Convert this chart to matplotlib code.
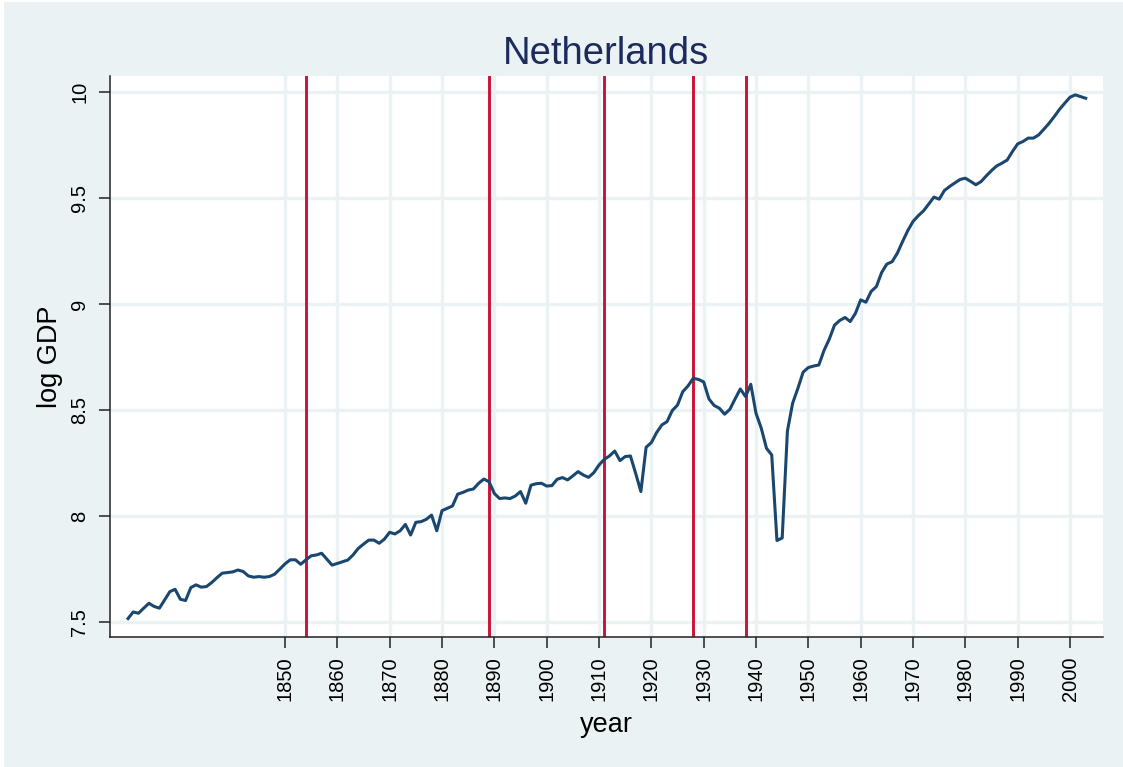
import numpy as np
import matplotlib
matplotlib.use("Agg")
import matplotlib.pyplot as plt
from matplotlib.patches import Rectangle

plt.rcParams['font.family'] = ['Liberation Sans', 'DejaVu Sans']

# Annual log GDP, Netherlands
years = np.arange(1820, 2004)
log_gdp = [
    7.516, 7.547, 7.541, 7.565, 7.588, 7.573, 7.565, 7.604, 7.643, 7.654,
    7.607, 7.601, 7.662, 7.675, 7.664, 7.667, 7.686, 7.709, 7.730, 7.733,
    7.736, 7.745, 7.738, 7.717, 7.711, 7.714, 7.711, 7.714, 7.725, 7.749,
    7.774, 7.793, 7.793, 7.772, 7.793, 7.812, 7.816, 7.824, 7.796, 7.768,
    7.776, 7.784, 7.792, 7.816, 7.847, 7.867, 7.886, 7.886, 7.871, 7.891,
    7.923, 7.915, 7.930, 7.960, 7.910, 7.970, 7.973, 7.984, 8.004, 7.930,
    8.025, 8.036, 8.047, 8.103, 8.111, 8.122, 8.127, 8.154, 8.174, 8.161,
    8.106, 8.082, 8.085, 8.082, 8.094, 8.115, 8.060, 8.145, 8.152, 8.154,
    8.141, 8.143, 8.173, 8.181, 8.170, 8.189, 8.209, 8.193, 8.182, 8.204,
    8.240, 8.267, 8.283, 8.306, 8.261, 8.280, 8.283, 8.201, 8.115, 8.324,
    8.346, 8.393, 8.429, 8.445, 8.497, 8.523, 8.586, 8.613, 8.649, 8.644,
    8.632, 8.552, 8.521, 8.508, 8.480, 8.503, 8.552, 8.599, 8.563, 8.621,
    8.484, 8.414, 8.319, 8.288, 7.884, 7.896, 8.401, 8.532, 8.602, 8.678,
    8.700, 8.707, 8.712, 8.781, 8.834, 8.900, 8.922, 8.936, 8.917, 8.956,
    9.019, 9.008, 9.059, 9.082, 9.148, 9.188, 9.199, 9.239, 9.294, 9.346,
    9.389, 9.416, 9.439, 9.471, 9.504, 9.494, 9.535, 9.554, 9.571, 9.587,
    9.593, 9.578, 9.562, 9.577, 9.604, 9.629, 9.651, 9.664, 9.679, 9.719,
    9.755, 9.766, 9.782, 9.782, 9.797, 9.824, 9.852, 9.884, 9.918, 9.947,
    9.975, 9.986, 9.978, 9.970,
]

# Years marked with vertical reference lines
break_years = [1854, 1889, 1911, 1928, 1938]

x_ticks = list(range(1850, 2001, 10))
y_ticks = [7.5, 8, 8.5, 9, 9.5, 10]
y_tick_labels = ["7.5", "8", "8.5", "9", "9.5", "10"]

W, H = 1123, 767
bg = "#EAF2F3"
grid_c = "#EAF2F3"
line_c = "#1A476F"
red_c = "#CC1236"

fig = plt.figure(figsize=(W / 100, H / 100), dpi=100, facecolor="white")
fig.patches.append(Rectangle((4 / W, 0), 1 - 4 / W, 1 - 2 / H,
                             transform=fig.transFigure, facecolor=bg,
                             edgecolor="none", zorder=-10))

left, right, top, bottom = 110, 1103, 76, 637
ax = fig.add_axes([left / W, 1 - bottom / H, (right - left) / W, (bottom - top) / H])
ax.set_facecolor("white")

ax.set_xlim(1816.56, 2006.3)
ax.set_ylim(7.429, 10.075)

# grid
for xv in x_ticks:
    ax.axvline(xv, color=grid_c, lw=2.4, zorder=1)
for yv in y_ticks:
    ax.axhline(yv, color=grid_c, lw=2.4, zorder=1)

for bx in break_years:
    ax.axvline(bx, color=red_c, lw=2.1, zorder=2)

ax.plot(years, log_gdp, color=line_c, lw=2.2, zorder=3, solid_joinstyle="round")

for s in ["top", "right"]:
    ax.spines[s].set_visible(False)
for s in ["left", "bottom"]:
    ax.spines[s].set_color("#222222")
    ax.spines[s].set_linewidth(1.1)

ax.set_xticks(x_ticks)
ax.set_xticklabels([str(v) for v in x_ticks], rotation=90, fontsize=14.5)
ax.set_yticks(y_ticks)
ax.set_yticklabels(y_tick_labels, rotation=90, va="center", fontsize=14.5)
ax.tick_params(axis="both", length=8, width=1.1, color="#222222", labelcolor="black")
ax.tick_params(axis="x", pad=6)
ax.tick_params(axis="y", pad=7)

cx = (left + right) / 2 / W
fig.text(cx, 1 - 64 / H, "Netherlands", ha="center", va="baseline",
         fontsize=27.5, color="#1C2B5C")
fig.text(cx, 1 - 732 / H, "year", ha="center", va="baseline", fontsize=19.5,
         color="black")
fig.text(50 / W, 1 - ((top + bottom) / 2) / H, "log GDP", rotation=90,
         ha="center", va="center", fontsize=19.5, color="black")

fig.savefig("out.png", dpi=100, facecolor=fig.get_facecolor())
